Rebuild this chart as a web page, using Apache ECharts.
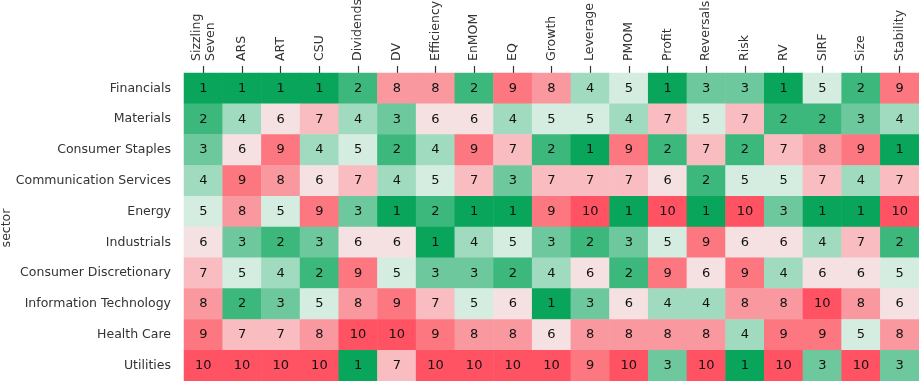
<!DOCTYPE html>
<html><head><meta charset="utf-8">
<script src="https://cdn.jsdelivr.net/npm/echarts@6/dist/echarts.min.js"></script>
<style>html,body{margin:0;padding:0;background:#fff}#c{width:919px;height:381px}</style>
</head><body><div id="c"></div>
<script>
const factors = ["Sizzling\nSeven","ARS","ART","CSU","Dividends","DV","Efficiency","EnMOM","EQ","Growth","Leverage","PMOM","Profit","Reversals","Risk","RV","SIRF","Size","Stability"];
const sectors = ["Financials","Materials","Consumer Staples","Communication Services","Energy","Industrials","Consumer Discretionary","Information Technology","Health Care","Utilities"];
const financials = [1,1,1,1,2,8,8,2,9,8,4,5,1,3,3,1,5,2,9];
const materials = [2,4,6,7,4,3,6,6,4,5,5,4,7,5,7,2,2,3,4];
const consumerStaples = [3,6,9,4,5,2,4,9,7,2,1,9,2,7,2,7,8,9,1];
const communicationServices = [4,9,8,6,7,4,5,7,3,7,7,7,6,2,5,5,7,4,7];
const energy = [5,8,5,9,3,1,2,1,1,9,10,1,10,1,10,3,1,1,10];
const industrials = [6,3,2,3,6,6,1,4,5,3,2,3,5,9,6,6,4,7,2];
const consumerDiscretionary = [7,5,4,2,9,5,3,3,2,4,6,2,9,6,9,4,6,6,5];
const informationTechnology = [8,2,3,5,8,9,7,5,6,1,3,6,4,4,8,8,10,8,6];
const healthCare = [9,7,7,8,10,10,9,8,8,6,8,8,8,8,4,9,9,5,8];
const utilities = [10,10,10,10,1,7,10,10,10,10,9,10,3,10,1,10,3,10,3];
const rows = [financials,materials,consumerStaples,communicationServices,energy,industrials,consumerDiscretionary,informationTechnology,healthCare,utilities];
const palette = ["#08a55b","#3cb87d","#6dc89d","#a0dbbf","#d4ede0","#f5e0e2","#f8bcc1","#fa98a0","#fd7780","#ff5263"];

const data = [];
rows.forEach((r, yi) => r.forEach((v, xi) => data.push([xi, yi, v])));

const chart = echarts.init(document.getElementById('c'), null, {renderer:'canvas'});
chart.setOption({
  animation: false,
  grid: {left: 184, right: 0, top: 73, bottom: 0, containLabel: false, outerBoundsMode: 'none'},
  xAxis: {
    type: 'category', data: factors, position: 'top',
    axisLine: {show: false},
    axisTick: {show: true, length: 7, alignWithLabel: true, lineStyle: {color: '#333', width: 1.2}},
    axisLabel: {rotate: -90, margin: 12, fontSize: 12.5, color: '#333', fontFamily: 'DejaVu Sans', interval: 0, lineHeight: 14},
    splitLine: {show: false}
  },
  yAxis: {
    type: 'category', data: sectors, inverse: true,
    axisLine: {show: false}, axisTick: {show: false},
    axisLabel: {margin: 13, fontSize: 12.5, color: '#333', fontFamily: 'DejaVu Sans', interval: 0}
  },
  graphic: [{
    type: 'text', rotation: Math.PI / 2, x: 7, y: 228,
    style: {text: 'sector', fontSize: 12.5, fill: '#333', fontFamily: 'DejaVu Sans', align: 'center', verticalAlign: 'middle'}
  }],
  visualMap: {
    type: 'piecewise', show: false, dimension: 2,
    pieces: palette.map((c, i) => ({value: i + 1, color: c}))
  },
  series: [{
    type: 'heatmap', data: data,
    label: {show: true, color: '#111', fontSize: 13, fontFamily: 'DejaVu Sans'},
    itemStyle: {borderWidth: 0},
    emphasis: {disabled: true}
  }]
});
</script></body></html>
